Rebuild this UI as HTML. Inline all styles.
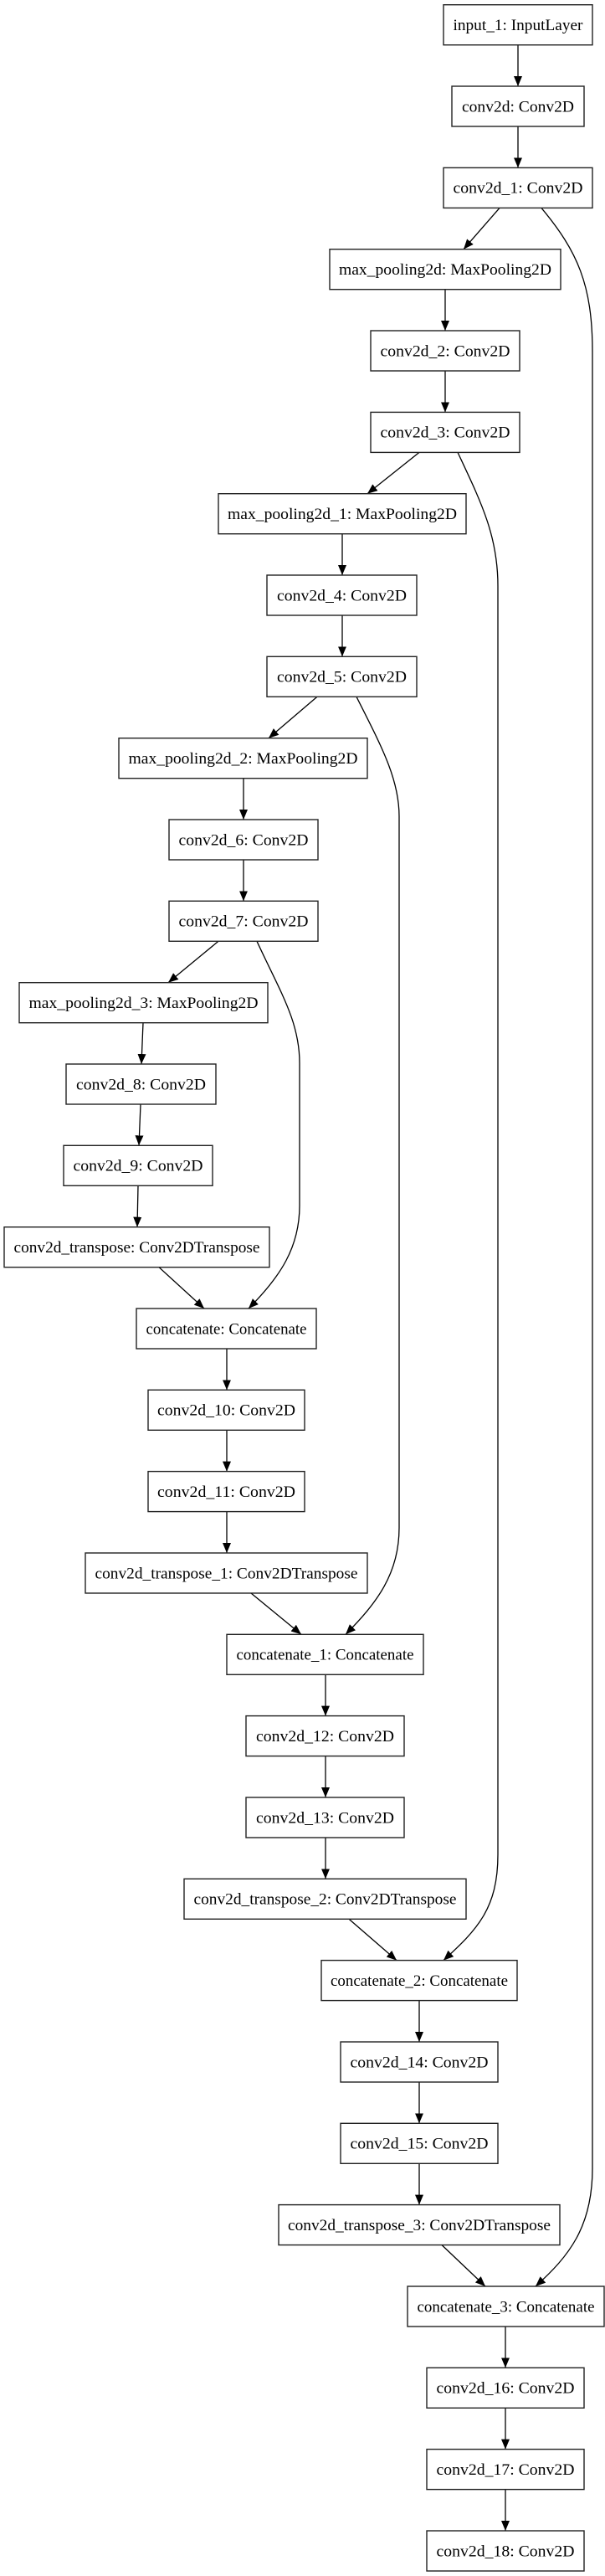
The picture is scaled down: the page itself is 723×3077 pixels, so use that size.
<!DOCTYPE html>
<html><head><meta charset="utf-8"><style>
html,body{margin:0;padding:0;background:#fff;}
svg{display:block;}
text{font-family:"Liberation Serif",serif;font-size:19px;fill:#000;text-anchor:middle;}
rect{fill:#fff;stroke:#222;stroke-width:1.4;}
.e{stroke:#000;stroke-width:1.3;fill:none;marker-end:url(#a);}
</style></head><body>
<svg width="723" height="3077" viewBox="0 0 723 3077" xmlns="http://www.w3.org/2000/svg">
<defs><marker id="a" markerUnits="userSpaceOnUse" markerWidth="14" markerHeight="12" refX="12" refY="5" orient="auto"><path d="M0,0 L12,5 L0,10 z" fill="#000"/></marker></defs>

<path class="e" d="M647,248.4 C690,300 708,340 708,420 L708,2590 C708,2660 680,2695 640,2731"/>
<path class="e" d="M547,540.4 C575,600 595,640 595,700 L595,2215 C595,2280 570,2305 530,2341.6"/>
<path class="e" d="M426,832.3 C455,890 477,930 477,975 L477,1825 C477,1880 450,1915 413,1952.3"/>
<path class="e" d="M307,1124.3 C335,1185 358,1220 358,1270 L358,1440 C358,1490 335,1525 297,1563"/>

<line class="e" x1="619" y1="53.7" x2="619" y2="103"/>
<line class="e" x1="619" y1="151" x2="619" y2="200.4"/>
<line class="e" x1="597" y1="248.4" x2="554" y2="297.7"/>
<line class="e" x1="532" y1="345.7" x2="532" y2="395"/>
<line class="e" x1="532" y1="443" x2="532" y2="492.4"/>
<line class="e" x1="501" y1="540.4" x2="439" y2="589.7"/>
<line class="e" x1="409" y1="637.7" x2="409" y2="687"/>
<line class="e" x1="409" y1="735" x2="409" y2="784.3"/>
<line class="e" x1="379" y1="832.3" x2="321" y2="881.7"/>
<line class="e" x1="291" y1="929.7" x2="291" y2="979"/>
<line class="e" x1="291" y1="1027" x2="291" y2="1076.3"/>
<line class="e" x1="261" y1="1124.3" x2="201" y2="1173.7"/>
<line class="e" x1="171" y1="1221.7" x2="169" y2="1271"/>
<line class="e" x1="168" y1="1319" x2="166" y2="1368.3"/>
<line class="e" x1="165" y1="1416.3" x2="164" y2="1465.7"/>
<line class="e" x1="190" y1="1513.7" x2="244" y2="1563"/>
<line class="e" x1="271" y1="1611" x2="271" y2="1660.3"/>
<line class="e" x1="271" y1="1708.3" x2="271" y2="1757.6"/>
<line class="e" x1="271" y1="1805.6" x2="271" y2="1855"/>
<line class="e" x1="300" y1="1903" x2="360" y2="1952.3"/>
<line class="e" x1="389" y1="2000.3" x2="389" y2="2049.6"/>
<line class="e" x1="389" y1="2097.6" x2="389" y2="2147"/>
<line class="e" x1="389" y1="2195" x2="389" y2="2244.3"/>
<line class="e" x1="417" y1="2292.3" x2="474" y2="2341.6"/>
<line class="e" x1="501" y1="2389.6" x2="501" y2="2439"/>
<line class="e" x1="501" y1="2487" x2="501" y2="2536.3"/>
<line class="e" x1="501" y1="2584.3" x2="501" y2="2633.6"/>
<line class="e" x1="528" y1="2681.6" x2="580" y2="2731"/>
<line class="e" x1="604" y1="2779" x2="604" y2="2828.3"/>
<line class="e" x1="604" y1="2876.3" x2="604" y2="2925.6"/>
<line class="e" x1="604" y1="2973.6" x2="604" y2="3023"/>

<rect x="530" y="5.7" width="178" height="48"/><text x="619" y="36" textLength="155" lengthAdjust="spacingAndGlyphs">input_1: InputLayer</text>
<rect x="540" y="103" width="158" height="48"/><text x="619" y="133.3" textLength="134" lengthAdjust="spacingAndGlyphs">conv2d: Conv2D</text>
<rect x="530" y="200.4" width="178" height="48"/><text x="619" y="230.7" textLength="155" lengthAdjust="spacingAndGlyphs">conv2d_1: Conv2D</text>
<rect x="394" y="297.7" width="276" height="48"/><text x="532" y="328" textLength="254" lengthAdjust="spacingAndGlyphs">max_pooling2d: MaxPooling2D</text>
<rect x="443" y="395" width="178" height="48"/><text x="532" y="425.3" textLength="155" lengthAdjust="spacingAndGlyphs">conv2d_2: Conv2D</text>
<rect x="443" y="492.4" width="178" height="48"/><text x="532" y="522.7" textLength="155" lengthAdjust="spacingAndGlyphs">conv2d_3: Conv2D</text>
<rect x="261" y="589.7" width="296" height="48"/><text x="409" y="620" textLength="274" lengthAdjust="spacingAndGlyphs">max_pooling2d_1: MaxPooling2D</text>
<rect x="319" y="687" width="179" height="48"/><text x="408.5" y="717.3" textLength="155" lengthAdjust="spacingAndGlyphs">conv2d_4: Conv2D</text>
<rect x="319" y="784.3" width="179" height="48"/><text x="408.5" y="814.6" textLength="155" lengthAdjust="spacingAndGlyphs">conv2d_5: Conv2D</text>
<rect x="142" y="881.7" width="297" height="48"/><text x="290.5" y="912" textLength="274" lengthAdjust="spacingAndGlyphs">max_pooling2d_2: MaxPooling2D</text>
<rect x="202" y="979" width="178" height="48"/><text x="291" y="1009.3" textLength="155" lengthAdjust="spacingAndGlyphs">conv2d_6: Conv2D</text>
<rect x="202" y="1076.3" width="178" height="48"/><text x="291" y="1106.6" textLength="155" lengthAdjust="spacingAndGlyphs">conv2d_7: Conv2D</text>
<rect x="23" y="1173.7" width="297" height="48"/><text x="171.5" y="1204" textLength="274" lengthAdjust="spacingAndGlyphs">max_pooling2d_3: MaxPooling2D</text>
<rect x="79" y="1271" width="179" height="48"/><text x="168.5" y="1301.3" textLength="155" lengthAdjust="spacingAndGlyphs">conv2d_8: Conv2D</text>
<rect x="76" y="1368.3" width="178" height="48"/><text x="165" y="1398.6" textLength="155" lengthAdjust="spacingAndGlyphs">conv2d_9: Conv2D</text>
<rect x="5" y="1465.7" width="317" height="48"/><text x="163.5" y="1496" textLength="294" lengthAdjust="spacingAndGlyphs">conv2d_transpose: Conv2DTranspose</text>
<rect x="163" y="1563" width="215" height="48"/><text x="270.5" y="1593.3" textLength="192" lengthAdjust="spacingAndGlyphs">concatenate: Concatenate</text>
<rect x="177" y="1660.3" width="187" height="48"/><text x="270.5" y="1690.6" textLength="165" lengthAdjust="spacingAndGlyphs">conv2d_10: Conv2D</text>
<rect x="177" y="1757.6" width="187" height="48"/><text x="270.5" y="1787.9" textLength="165" lengthAdjust="spacingAndGlyphs">conv2d_11: Conv2D</text>
<rect x="102" y="1855" width="337" height="48"/><text x="270.5" y="1885.3" textLength="314" lengthAdjust="spacingAndGlyphs">conv2d_transpose_1: Conv2DTranspose</text>
<rect x="271" y="1952.3" width="235" height="48"/><text x="388.5" y="1982.6" textLength="212" lengthAdjust="spacingAndGlyphs">concatenate_1: Concatenate</text>
<rect x="294" y="2049.6" width="189" height="48"/><text x="388.5" y="2079.9" textLength="165" lengthAdjust="spacingAndGlyphs">conv2d_12: Conv2D</text>
<rect x="294" y="2147" width="189" height="48"/><text x="388.5" y="2177.3" textLength="165" lengthAdjust="spacingAndGlyphs">conv2d_13: Conv2D</text>
<rect x="220" y="2244.3" width="337" height="48"/><text x="388.5" y="2274.6" textLength="314" lengthAdjust="spacingAndGlyphs">conv2d_transpose_2: Conv2DTranspose</text>
<rect x="384" y="2341.6" width="234" height="48"/><text x="501" y="2371.9" textLength="212" lengthAdjust="spacingAndGlyphs">concatenate_2: Concatenate</text>
<rect x="407" y="2439" width="188" height="48"/><text x="501" y="2469.3" textLength="165" lengthAdjust="spacingAndGlyphs">conv2d_14: Conv2D</text>
<rect x="407" y="2536.3" width="188" height="48"/><text x="501" y="2566.6" textLength="165" lengthAdjust="spacingAndGlyphs">conv2d_15: Conv2D</text>
<rect x="333" y="2633.6" width="336" height="48"/><text x="501" y="2663.9" textLength="314" lengthAdjust="spacingAndGlyphs">conv2d_transpose_3: Conv2DTranspose</text>
<rect x="487" y="2731" width="235" height="48"/><text x="604.5" y="2761.3" textLength="212" lengthAdjust="spacingAndGlyphs">concatenate_3: Concatenate</text>
<rect x="510" y="2828.3" width="188" height="48"/><text x="604" y="2858.6" textLength="165" lengthAdjust="spacingAndGlyphs">conv2d_16: Conv2D</text>
<rect x="510" y="2925.6" width="188" height="48"/><text x="604" y="2955.9" textLength="165" lengthAdjust="spacingAndGlyphs">conv2d_17: Conv2D</text>
<rect x="510" y="3023" width="188" height="48"/><text x="604" y="3053.3" textLength="165" lengthAdjust="spacingAndGlyphs">conv2d_18: Conv2D</text>
</svg>
</body></html>
